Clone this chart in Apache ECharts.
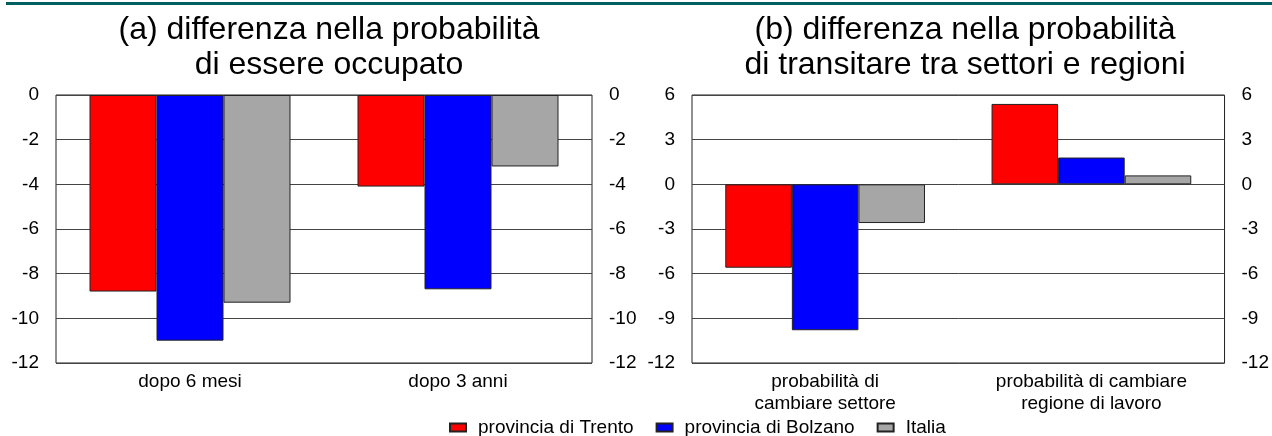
<!DOCTYPE html>
<html>
<head>
<meta charset="utf-8">
<script src="https://cdn.jsdelivr.net/npm/echarts@6/dist/echarts.min.js"></script>
<style>html,body{margin:0;padding:0;background:#fff}#c{width:1272px;height:436px}</style>
</head>
<body>
<div id="c"></div>
<script>
const seriesNames = ['provincia di Trento', 'provincia di Bolzano', 'Italia'];
const colors = ['#ff0000', '#0000ff', '#a6a6a6'];
const catsA = ['dopo 6 mesi', 'dopo 3 anni'];
const catsB = ['probabilità di\ncambiare settore', 'probabilità di cambiare\nregione di lavoro'];
const trentoA = [-8.8, -4.1];
const bolzanoA = [-11.0, -8.7];
const italiaA = [-9.3, -3.2];
const trentoB = [-5.6, 5.4];
const bolzanoB = [-9.8, 1.8];
const italiaB = [-2.6, 0.6];
const titleA = '(a) differenza nella probabilità\ndi essere occupato';
const titleB = '(b) differenza nella probabilità\ndi transitare tra settori e regioni';

const FONT = '"Liberation Sans", Arial, sans-serif';
const chart = echarts.init(document.getElementById('c'));

function yAx(gi, pos, min, max, interval, split) {
  return {
    type: 'value', gridIndex: gi, position: pos, min: min, max: max, interval: interval,
    axisLine: { show: false }, axisTick: { show: false },
    splitLine: { show: split, lineStyle: { color: '#444', width: 1 } },
    axisLabel: { color: '#000', fontSize: 19, fontFamily: FONT, margin: 17 }
  };
}
function xAx(gi, cats) {
  return {
    type: 'category', gridIndex: gi, data: cats, position: 'bottom',
    axisLine: { show: false, onZero: false }, axisTick: { show: false },
    axisLabel: { color: '#000', fontSize: 19, fontFamily: FONT, margin: 8, lineHeight: 22, interval: 0 }
  };
}
function bar(name, data, i, xi, yi) {
  return {
    type: 'bar', name: name, data: data, xAxisIndex: xi, yAxisIndex: yi,
    barWidth: '25%', barGap: '0%',
    itemStyle: { color: colors[i], borderColor: '#222', borderWidth: 1 },
    emphasis: { disabled: true }
  };
}

chart.setOption({
  animation: false,
  backgroundColor: '#fff',
  graphic: [{ type: 'rect', shape: { x: 6, y: 2, width: 1266, height: 3 }, style: { fill: '#006060' } }],
  title: [
    { text: titleA, left: 324, top: 8, textAlign: 'center',
      textStyle: { fontSize: 32, fontWeight: 'normal', color: '#000', fontFamily: FONT, lineHeight: 35 } },
    { text: titleB, left: 960, top: 8, textAlign: 'center',
      textStyle: { fontSize: 32, fontWeight: 'normal', color: '#000', fontFamily: FONT, lineHeight: 35 } }
  ],
  legend: {
    data: seriesNames, left: 444, top: 413, icon: 'rect', itemWidth: 16, itemHeight: 8, itemGap: 22,
    textStyle: { fontSize: 19, color: '#000', fontFamily: FONT, padding: [0, 0, 0, 7] }
  },
  grid: [
    { left: 56, right: 680, top: 95, bottom: 73, show: true, borderColor: '#222', borderWidth: 1, backgroundColor: 'transparent' },
    { left: 692, right: 43, top: 95, bottom: 73, show: true, borderColor: '#222', borderWidth: 1, backgroundColor: 'transparent' }
  ],
  xAxis: [xAx(0, catsA), xAx(1, catsB)],
  yAxis: [
    yAx(0, 'left', -12, 0, 2, true),
    yAx(0, 'right', -12, 0, 2, false),
    yAx(1, 'left', -12, 6, 3, true),
    yAx(1, 'right', -12, 6, 3, false)
  ],
  series: [
    bar(seriesNames[0], trentoA, 0, 0, 0),
    bar(seriesNames[1], bolzanoA, 1, 0, 0),
    bar(seriesNames[2], italiaA, 2, 0, 0),
    bar(seriesNames[0], trentoB, 0, 1, 2),
    bar(seriesNames[1], bolzanoB, 1, 1, 2),
    bar(seriesNames[2], italiaB, 2, 1, 2)
  ]
});
</script>
</body>
</html>
